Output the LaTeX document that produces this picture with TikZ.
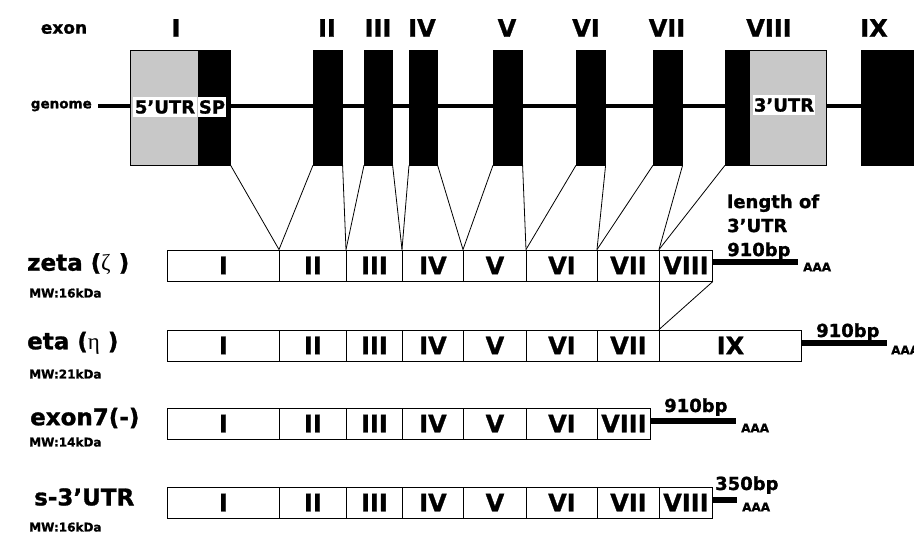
\documentclass[tikz,border=0pt]{standalone}
\usepackage{fontspec}
\setmainfont{DejaVu Sans}[BoldFeatures={FakeBold=1.2}]
\newfontfamily\greekfont{Liberation Serif}
\definecolor{utrgray}{RGB}{200,200,200}
\newcommand\mkseg[5]{\node[seg, minimum width={#3-#2}] (#1) at (#2,#4) {#5};}
\begin{document}
\begin{tikzpicture}[x=1pt,y=-1pt,
  seg/.style={draw=black, line width=0.9pt, fill=white, minimum height=31pt, inner sep=0pt, anchor=west, font=\fontsize{24}{24}\selectfont\bfseries},
  gex/.style={fill=black, draw=black, line width=0.6pt, inner sep=0pt, minimum height=115pt, anchor=west},
  gutr/.style={fill=utrgray, draw=black, line width=0.6pt, inner sep=0pt, minimum height=115pt, anchor=west},
  numlab/.style={font=\fontsize{24}{24}\selectfont\bfseries, inner sep=0pt},
  toplab/.style={font=\fontsize{17}{17}\selectfont\bfseries, inner sep=0pt},
  whitelab/.style={fill=white, inner sep=1pt, font=\fontsize{18}{18}\selectfont\bfseries},
  rowlab/.style={font=\fontsize{23}{23}\selectfont\bfseries, inner sep=0pt, anchor=west},
  mw/.style={font=\fontsize{12}{12}\selectfont\bfseries, inner sep=0pt, anchor=west},
  bp/.style={font=\fontsize{18}{18}\selectfont\bfseries, inner sep=0pt},
  aaa/.style={font=\fontsize{12}{12}\selectfont\bfseries, inner sep=0pt, anchor=west},
  tail/.style={line width=6pt},
  conn/.style={line width=0.8pt}
]
\useasboundingbox (0,0) rectangle (914,535);

% ---------- genome ----------
\node[toplab] (exonlab) at (64,29) {exon};
\node[font=\fontsize{13.5}{13.5}\selectfont\bfseries, inner sep=0pt, anchor=east] (gname) at (92,106) {genome};
\coordinate (gs) at (98,106);
\coordinate (ge) at (914,106);
\draw[line width=4.5pt] (gs) -- (ge);

\node[gutr, minimum width=68] (g1u) at (130,107.5) {};
\node[gex, minimum width=32] (g1s) at (198,107.5) {};
\node[gex, minimum width=29] (g2) at (313,107.5) {};
\node[gex, minimum width=28] (g3) at (364,107.5) {};
\node[gex, minimum width=28] (g4) at (409,107.5) {};
\node[gex, minimum width=29] (g5) at (493,107.5) {};
\node[gex, minimum width=29] (g6) at (576,107.5) {};
\node[gex, minimum width=29] (g7) at (653,107.5) {};
\node[gex, minimum width=24] (g8b) at (725,107.5) {};
\node[gutr, minimum width=77] (g8u) at (749,107.5) {};
\begin{scope}
\clip (0,0) rectangle (914,535);
\node[gex, minimum width=60] (g9) at (861,107.5) {};
\end{scope}

\node[whitelab, minimum width=64, minimum height=20] (t5) at (165,107) {5'UTR};
\node[whitelab, minimum width=27, minimum height=20] (tsp) at (212,107) {SP};
\node[whitelab, minimum width=60, minimum height=20] (t3) at (784,105) {3'UTR};

\node[numlab] (n1) at (176,28) {I};
\node[numlab] (n2) at (327,28) {II};
\node[numlab] (n3) at (378,28) {III};
\node[numlab] (n4) at (422,28) {IV};
\node[numlab] (n5) at (507,28) {V};
\node[numlab] (n6) at (586,28) {VI};
\node[numlab] (n7) at (667,28) {VII};
\node[numlab] (n8) at (769,28) {VIII};
\node[numlab] (n9) at (874,28) {IX};

% ---------- zeta ----------
\mkseg{z1}{167}{279}{265.5}{I}
\mkseg{z2}{279}{346}{265.5}{II}
\mkseg{z3}{346}{402}{265.5}{III}
\mkseg{z4}{402}{463}{265.5}{IV}
\mkseg{z5}{463}{526}{265.5}{V}
\mkseg{z6}{526}{597}{265.5}{VI}
\mkseg{z7}{597}{659}{265.5}{VII}
\mkseg{z8}{659}{712}{265.5}{VIII}
\node[rowlab] (zl) at (27,264) {zeta ({\greekfont\mdseries ζ} )};
\node[mw] (zm) at (29,293) {MW:16kDa};
\coordinate (zt) at (798,262);
\draw[tail] (z8.east |- zt) -- (zt);
\node[aaa] (za) at (803,267) {AAA};
\node[bp, align=left, anchor=south west, font=\fontsize{18}{24}\selectfont\bfseries] (zlen) at (727,260) {length of\\3'UTR\\910bp};

% ---------- eta ----------
\mkseg{e1}{167}{279}{345.5}{I}
\mkseg{e2}{279}{346}{345.5}{II}
\mkseg{e3}{346}{402}{345.5}{III}
\mkseg{e4}{402}{463}{345.5}{IV}
\mkseg{e5}{463}{526}{345.5}{V}
\mkseg{e6}{526}{597}{345.5}{VI}
\mkseg{e7}{597}{659}{345.5}{VII}
\mkseg{e9}{659}{801}{345.5}{IX}
\node[rowlab] (el) at (27,343) {eta ({\greekfont\mdseries η} )};
\node[mw] (em) at (29,374) {MW:21kDa};
\coordinate (et) at (887,343);
\draw[tail] (e9.east |- et) -- (et);
\node[bp, anchor=base west] (ebp) at (816,337) {910bp};
\begin{scope}
\clip (0,0) rectangle (914,535);
\node[aaa] (ea) at (891,350) {AAA};
\end{scope}

% ---------- exon7(-) ----------
\mkseg{x1}{167}{279}{423.5}{I}
\mkseg{x2}{279}{346}{423.5}{II}
\mkseg{x3}{346}{402}{423.5}{III}
\mkseg{x4}{402}{463}{423.5}{IV}
\mkseg{x5}{463}{526}{423.5}{V}
\mkseg{x6}{526}{597}{423.5}{VI}
\mkseg{x8}{597}{650}{423.5}{VIII}
\node[rowlab] (xl) at (30,418) {exon7(-)};
\node[mw] (xm) at (29,442) {MW:14kDa};
\coordinate (xt) at (736,421);
\draw[tail] (x8.east |- xt) -- (xt);
\node[bp, anchor=base west] (xbp) at (664,412) {910bp};
\node[aaa] (xa) at (741,428) {AAA};

% ---------- s-3'UTR ----------
\mkseg{s1}{167}{279}{502.5}{I}
\mkseg{s2}{279}{346}{502.5}{II}
\mkseg{s3}{346}{402}{502.5}{III}
\mkseg{s4}{402}{463}{502.5}{IV}
\mkseg{s5}{463}{526}{502.5}{V}
\mkseg{s6}{526}{597}{502.5}{VI}
\mkseg{s7}{597}{659}{502.5}{VII}
\mkseg{s8}{659}{712}{502.5}{VIII}
\node[rowlab] (sl) at (34,497) {s-3'UTR};
\node[mw] (sm) at (29,527) {MW:16kDa};
\coordinate (st) at (737,500);
\draw[tail] (s8.east |- st) -- (st);
\node[bp, anchor=base west] (sbp) at (715,490) {350bp};
\node[aaa] (sa) at (742,507) {AAA};

% ---------- connectors ----------
\draw[conn] (g1s.south east) -- (z2.north west);
\draw[conn] (g2.south west) -- (z2.north west);
\draw[conn] (g2.south east) -- (z3.north west);
\draw[conn] (g3.south west) -- (z3.north west);
\draw[conn] (g3.south east) -- (z4.north west);
\draw[conn] (g4.south west) -- (z4.north west);
\draw[conn] (g4.south east) -- (z5.north west);
\draw[conn] (g5.south west) -- (z5.north west);
\draw[conn] (g5.south east) -- (z6.north west);
\draw[conn] (g6.south west) -- (z6.north west);
\draw[conn] (g6.south east) -- (z7.north west);
\draw[conn] (g7.south west) -- (z7.north west);
\draw[conn] (g7.south east) -- (z8.north west);
\draw[conn] (g8b.south west) -- (z8.north west);
\draw[conn] (z8.south west) -- (e9.north west);
\draw[conn] (z8.south east) -- (e9.north west);
\end{tikzpicture}
\end{document}
